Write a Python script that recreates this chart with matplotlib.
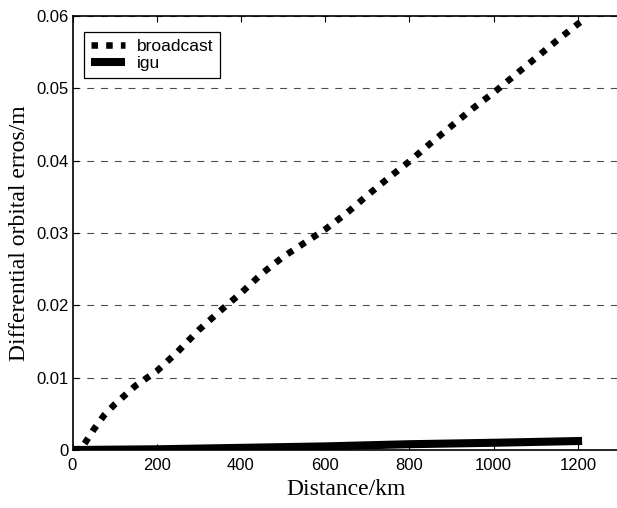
import numpy as np
import matplotlib
matplotlib.use("Agg")
import matplotlib.pyplot as plt

# distances (km) and differential orbital errors (m)
dist_broadcast = [0, 20, 30, 50, 75, 100, 150, 200, 250, 300, 350, 400, 450, 500,
                  550, 600, 650, 700, 750, 800, 850, 900, 950, 1000, 1050, 1100,
                  1150, 1200, 1210]
err_broadcast = [0.0, 0.0002, 0.001, 0.0028, 0.0048, 0.0063, 0.0089, 0.0109, 0.0136,
                 0.0166, 0.0192, 0.0217, 0.0244, 0.0267, 0.0286, 0.0305, 0.0327,
                 0.0352, 0.0376, 0.0399, 0.0424, 0.0448, 0.0472, 0.0494, 0.0518,
                 0.0542, 0.0566, 0.0589, 0.0593]

dist_igu = [0, 200, 400, 600, 800, 1000, 1210]
err_igu = [0.0, 0.0001, 0.0003, 0.0005, 0.0008, 0.001, 0.00125]

xticks = [0, 200, 400, 600, 800, 1000, 1200]
yticks = [0, 0.01, 0.02, 0.03, 0.04, 0.05, 0.06]
ytick_labels = ['0', '0.01', '0.02', '0.03', '0.04', '0.05', '0.06']

W, H = 617, 508
fig = plt.figure(figsize=(W / 100, H / 100), dpi=100)
left, right, top, bottom = 72.5, 620, 16, 450
ax = fig.add_axes([left / W, (H - bottom) / H, (right - left) / W, (bottom - top) / H])

ax.plot(dist_broadcast, err_broadcast, color='black', lw=4.7,
        linestyle=(0, (1, 1.25)), label='broadcast', zorder=3)
ax.plot(dist_igu, err_igu, color='black', lw=5.8, solid_capstyle='butt',
        label='igu', zorder=3)

ax.set_xlim(0, 1300)
ax.set_ylim(0, 0.06)
ax.set_xticks(xticks)
ax.set_yticks(yticks)
ax.set_yticklabels(ytick_labels)

for lab in ax.get_xticklabels() + ax.get_yticklabels():
    lab.set_fontfamily('Liberation Sans')
    lab.set_fontsize(12)
ax.tick_params(direction='in', top=True, right=False, length=4, width=0.8)
ax.tick_params(axis='x', pad=6)
ax.tick_params(axis='y', pad=3)

for s in ax.spines.values():
    s.set_linewidth(1.2)

# horizontal dashed grid
ax.yaxis.grid(True, color='0.3', lw=0.8, dashes=(6.2, 6.2))
ax.xaxis.grid(False)
ax.set_axisbelow(True)

ax.set_xlabel('Distance/km', fontfamily='Liberation Serif', fontsize=17, labelpad=4)
ax.set_ylabel('Differential orbital erros/m', fontfamily='Liberation Serif',
              fontsize=17, labelpad=4)

leg = ax.legend(loc='upper left', bbox_to_anchor=(0.021, 0.963), borderaxespad=0,
                prop={'family': 'Liberation Sans', 'size': 12.5},
                fancybox=False, framealpha=1, edgecolor='black',
                handlelength=1.95, handletextpad=0.7, labelspacing=0.1,
                borderpad=0.4)
leg.get_frame().set_linewidth(0.9)

fig.savefig('out.png', dpi=100)
